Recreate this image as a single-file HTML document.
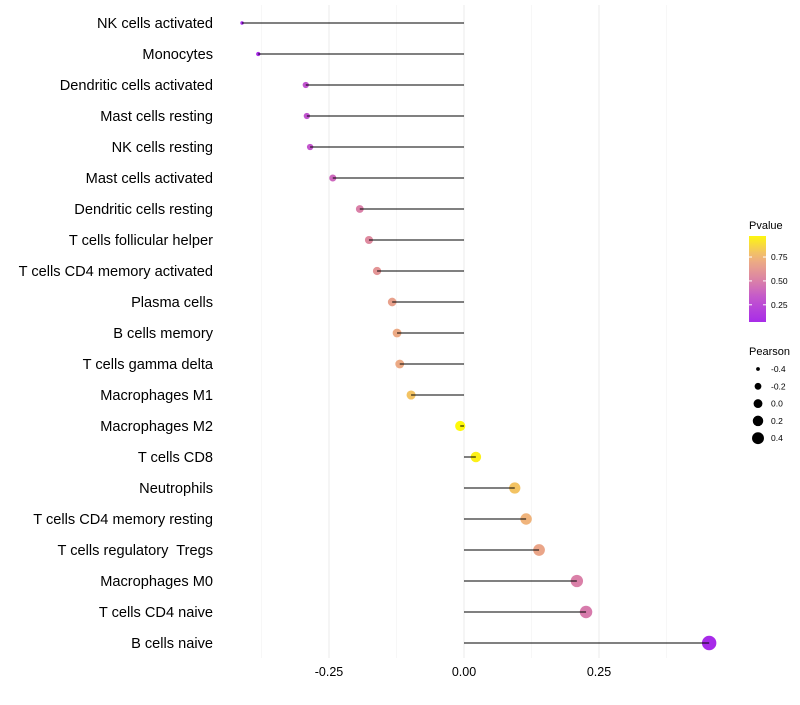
<!DOCTYPE html>
<html><head><meta charset="utf-8"><style>
body{margin:0;background:#fff;font-family:"Liberation Sans",sans-serif}
svg text{font-family:"Liberation Sans",sans-serif;white-space:pre}
</style></head><body>
<svg id="chart" width="800" height="700">
<g id="grid"></g><g id="marks"></g><g id="labels"></g><g id="legend"></g>
</svg>
<script>
const categories=["NK cells activated","Monocytes","Dendritic cells activated","Mast cells resting","NK cells resting","Mast cells activated","Dendritic cells resting","T cells follicular helper","T cells CD4 memory activated","Plasma cells","B cells memory","T cells gamma delta","Macrophages M1","Macrophages M2","T cells CD8","Neutrophils","T cells CD4 memory resting","T cells regulatory  Tregs","Macrophages M0","T cells CD4 naive","B cells naive"];
const pearson=[-0.411,-0.381,-0.293,-0.291,-0.285,-0.243,-0.193,-0.176,-0.161,-0.133,-0.124,-0.119,-0.098,-0.007,0.022,0.094,0.115,0.139,0.209,0.226,0.454];
const pvalues=[0.05,0.08,0.3,0.3,0.32,0.4,0.5,0.55,0.6,0.66,0.7,0.7,0.8,0.98,0.95,0.8,0.75,0.68,0.5,0.48,0.06];
const xTicks=[-0.25,0,0.25];
const xTickLabels=["-0.25","0.00","0.25"];
const xMinor=[-0.375,-0.125,0.125,0.375];
const pTicks=[0.25,0.5,0.75];
const sizeTicks=[-0.4,-0.2,0,0.2,0.4];

const NS="http://www.w3.org/2000/svg";
const X=v=>464+v*540;
const Y=i=>23+i*31;
const vmin=Math.min(...pearson),vmax=Math.max(...pearson);
const R=v=>Math.sqrt(Math.max(2,3+(v-vmin)/(vmax-vmin)*49));
const RL=v=>Math.sqrt(Math.max(2,3.5+(v+0.4)/0.8*32));
const stops=[[0,[160,32,240]],[0.33,[196,88,204]],[0.5,[218,128,168]],[0.75,[240,180,124]],[1,[255,255,0]]];
function col(p){for(let i=1;i<stops.length;i++){if(p<=stops[i][0]){const a=stops[i-1],b=stops[i],t=(p-a[0])/(b[0]-a[0]);return "rgb("+a[1].map((c,k)=>Math.round(c+(b[1][k]-c)*t)).join(",")+")";}}return "rgb(255,255,0)";}
function mk(tag,attrs,parent,text){const e=document.createElementNS(NS,tag);for(const k in attrs)e.setAttribute(k,attrs[k]);if(text!==undefined)e.textContent=text;parent.appendChild(e);return e;}
const grid=document.getElementById('grid'),marks=document.getElementById('marks'),labels=document.getElementById('labels'),legend=document.getElementById('legend');
xMinor.forEach(v=>{const l=mk('line',{x1:X(v),x2:X(v),y1:5,y2:658,stroke:'#f2f2f2','stroke-width':0.6},grid);

});
xTicks.forEach((v,i)=>{const l=mk('line',{x1:X(v),x2:X(v),y1:5,y2:658,stroke:'#ebebeb','stroke-width':1},grid);


const t=mk('text',{x:X(v),y:676,'text-anchor':'middle','font-size':12.5,fill:'#000'},labels,xTickLabels[i]);

});
categories.forEach((c,i)=>{const y=Y(i);
const t=mk('text',{x:213,y:y+5,'text-anchor':'end','font-size':14.6,fill:'#000'},labels,c);


const p=mk('circle',{cx:X(pearson[i]),cy:y,r:R(pearson[i]),fill:col(pvalues[i])},marks);


const s=mk('line',{x1:X(0),x2:X(pearson[i]),y1:y,y2:y,stroke:'#000','stroke-width':1},marks);

});
const lt=mk('text',{x:749,y:229,'font-size':11},legend,'Pvalue');


const defs=mk('defs',{},legend);const g=mk('linearGradient',{id:'pg',x1:0,y1:1,x2:0,y2:0},defs);
for(let k=0;k<=10;k++)mk('stop',{offset:k/10,'stop-color':col(0.07+0.9*k/10)},g);
const bar=mk('rect',{x:749,y:236,width:17,height:86,fill:'url(#pg)'},legend);


const pY=p=>322-(p-0.07)/0.9*86;
pTicks.forEach(p=>{mk('line',{x1:749,x2:752,y1:pY(p),y2:pY(p),stroke:'#fff'},legend);mk('line',{x1:763,x2:766,y1:pY(p),y2:pY(p),stroke:'#fff'},legend);
const t=mk('text',{x:771,y:pY(p)+3,'font-size':8.5},legend,p.toFixed(2));

});
const st=mk('text',{x:749,y:355,'font-size':11},legend,'Pearson');


sizeTicks.forEach((v,i)=>{const y=369+i*17.3;
const c=mk('circle',{cx:758,cy:y,r:RL(v),fill:'#000'},legend);


const t=mk('text',{x:771,y:y+3,'font-size':8.5},legend,v.toFixed(1));

});
</script>
</body></html>
